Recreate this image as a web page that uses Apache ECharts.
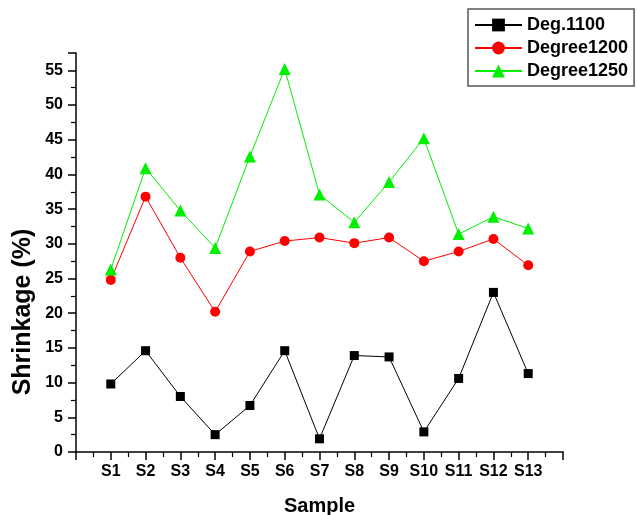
<!DOCTYPE html>
<html>
<head>
<meta charset="utf-8">
<script src="https://cdn.jsdelivr.net/npm/echarts@6/dist/echarts.min.js"></script>
<style>html,body{margin:0;padding:0;background:#fff}#c{width:637px;height:515px}</style>
</head>
<body>
<div id="c"></div>
<script>
const categories = ['S1','S2','S3','S4','S5','S6','S7','S8','S9','S10','S11','S12','S13'];
const deg1100 = [9.8, 14.6, 8.0, 2.5, 6.7, 14.6, 1.9, 13.9, 13.7, 2.9, 10.6, 23.0, 11.3];
const deg1200 = [24.8, 36.8, 28.0, 20.2, 28.9, 30.4, 30.9, 30.1, 30.9, 27.5, 28.9, 30.7, 26.9];
const deg1250 = [26.3, 40.9, 34.8, 29.4, 42.6, 55.2, 37.1, 33.1, 38.9, 45.2, 31.4, 33.9, 32.2];
const seriesNames = ['Deg.1100', 'Degree1200', 'Degree1250'];
const yTicks = [0,5,10,15,20,25,30,35,40,45,50,55];

const FONT = 'Arial, "Liberation Sans", sans-serif';
const toPairs = arr => arr.map((v, i) => [i + 1, v]);

const chart = echarts.init(document.getElementById('c'), null, {renderer: 'canvas'});
chart.setOption({
  animation: false,
  backgroundColor: '#fff',
  grid: {left: 76, right: 74, top: 53, bottom: 63, outerBoundsMode: 'none', containLabel: false},
  legend: {
    orient: 'vertical', left: 468, top: 9,
    borderColor: '#555', borderWidth: 1.5,
    padding: [7, 6, 6, 6],
    itemWidth: 47, itemHeight: 16, itemGap: 5,
    textStyle: {fontFamily: FONT, fontWeight: 'bold', fontSize: 18, color: '#000'},
    data: seriesNames
  },
  xAxis: {
    type: 'value', min: 0, max: 14, interval: 1,
    name: 'Sample', nameLocation: 'middle', nameGap: 44,
    nameTextStyle: {fontFamily: FONT, fontWeight: 'bold', fontSize: 20, color: '#000'},
    axisLine: {onZero: false, lineStyle: {color: '#000', width: 1.5}},
    axisTick: {inside: false, length: 8, lineStyle: {color: '#000', width: 1.5}},
    minorTick: {show: true, splitNumber: 2, length: 5, lineStyle: {color: '#000', width: 1.2}},
    splitLine: {show: false},
    axisLabel: {
      margin: 12, color: '#000', fontFamily: FONT, fontWeight: 'bold', fontSize: 16,
      formatter: v => (v >= 1 && v <= categories.length && Number.isInteger(v)) ? categories[v - 1] : ''
    }
  },
  yAxis: {
    type: 'value', min: 0, max: 57.5, interval: 5,
    axisLine: {show: true, lineStyle: {color: '#000', width: 1.5}},
    axisTick: {show: true, inside: false, length: 8, lineStyle: {color: '#000', width: 1.5}},
    minorTick: {show: true, splitNumber: 2, length: 5, lineStyle: {color: '#000', width: 1.2}},
    splitLine: {show: false},
    axisLabel: {
      margin: 13, color: '#000', fontFamily: FONT, fontWeight: 'bold', fontSize: 16,
      showMaxLabel: false,
      formatter: v => yTicks.indexOf(v) >= 0 ? String(v) : ''
    }
  },
  graphic: [{
    type: 'text', x: 23, y: 312, rotation: Math.PI / 2,
    style: {text: 'Shrinkage (%)', font: 'bold 25px ' + FONT, fill: '#000', align: 'center', verticalAlign: 'middle'}
  }],
  series: [
    {name: seriesNames[0], type: 'line', data: toPairs(deg1100), symbol: 'rect', symbolSize: 9,
     itemStyle: {color: '#000'}, lineStyle: {color: '#000', width: 1}},
    {name: seriesNames[1], type: 'line', data: toPairs(deg1200), symbol: 'circle', symbolSize: 10,
     itemStyle: {color: '#ff0000'}, lineStyle: {color: '#ff0000', width: 1}},
    {name: seriesNames[2], type: 'line', data: toPairs(deg1250), symbol: 'triangle', symbolSize: 12,
     itemStyle: {color: '#00f000'}, lineStyle: {color: '#00f000', width: 1}}
  ]
});
</script>
</body>
</html>
